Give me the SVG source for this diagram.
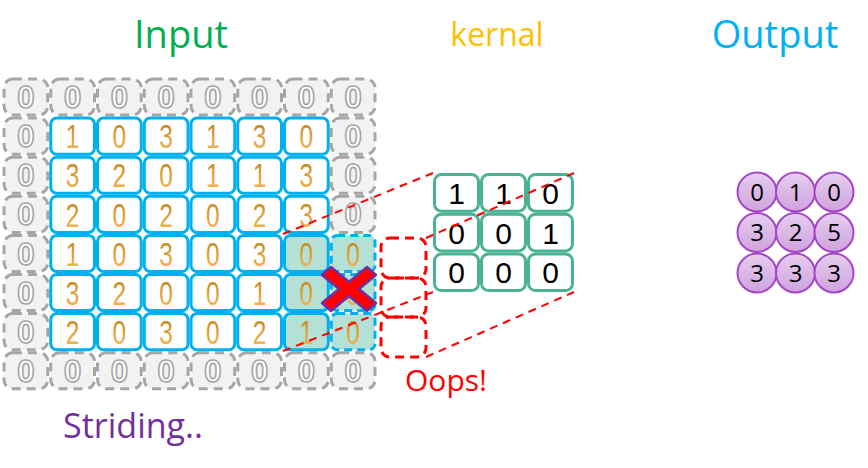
<svg xmlns="http://www.w3.org/2000/svg" width="868" height="468" viewBox="0 0 868 468">
<defs>
<linearGradient id="gold" x1="0" y1="0" x2="0" y2="1">
<stop offset="0" stop-color="#b97a12"/>
<stop offset="0.6" stop-color="#e3a43c"/>
<stop offset="1" stop-color="#f4c060"/>
</linearGradient>
<linearGradient id="purp" x1="0" y1="0" x2="0" y2="1">
<stop offset="0" stop-color="#e6cdef"/>
<stop offset="1" stop-color="#cfa3dd"/>
</linearGradient>
<style>
.pad{fill:#f2f2f2;stroke:#a6a6a6;stroke-width:3;stroke-dasharray:9 6}
.cell{fill:#ffffff;stroke:#00b0f0;stroke-width:3}
.teal{fill:#b4e0d5;stroke:#00b0f0;stroke-width:3}
.tealdash{fill:#b4e0d5;stroke:#00b0f0;stroke-width:3;stroke-dasharray:8 5}
.kcell{fill:#ffffff;stroke:#4ab393;stroke-width:3}
.rbox{fill:none;stroke:#ff0000;stroke-width:3;stroke-dasharray:9 6}
.rline{fill:none;stroke:#ff0000;stroke-width:2;stroke-dasharray:8 6}
.out{fill:url(#purp);stroke:#a347c7;stroke-width:2}
.z{font-family:'Liberation Sans',Arial,sans-serif;font-weight:bold;font-size:31px;fill:#ffffff;stroke:#a6a6a6;stroke-width:1.6;text-anchor:middle}
.d{font-family:'Liberation Sans',Arial,sans-serif;font-size:34px;fill:url(#gold);text-anchor:middle}
.k{font-family:'Liberation Sans',Arial,sans-serif;font-size:30px;fill:#000000;text-anchor:middle}
.o{font-family:'Open Sans','DejaVu Sans',sans-serif;font-size:24px;fill:#000000;text-anchor:middle}
.t{font-family:'Open Sans','DejaVu Sans',sans-serif;text-anchor:middle}
</style>
</defs>
<rect width="868" height="468" fill="#ffffff"/>

<g id="titles">
<text class="t" x="181" y="48" font-size="38" fill="#00b050">Input</text>
<text class="t" x="497" y="46" font-size="32" fill="#ffc000">kernal</text>
<text class="t" x="775" y="48" font-size="38" fill="#00b0f0">Output</text>
<text class="t" x="133" y="438" font-size="34" fill="#7030a0">Striding..</text>
<text class="t" x="446" y="391" font-size="30" fill="#ff0000">Oops!</text>
</g>

<g id="padding">
<rect class="pad" x="4" y="79" width="43.75" height="36.1" rx="9"/>
<rect class="pad" x="50.75" y="79" width="43.75" height="36.1" rx="9"/>
<rect class="pad" x="97.5" y="79" width="43.75" height="36.1" rx="9"/>
<rect class="pad" x="144.25" y="79" width="43.75" height="36.1" rx="9"/>
<rect class="pad" x="191" y="79" width="43.75" height="36.1" rx="9"/>
<rect class="pad" x="237.75" y="79" width="43.75" height="36.1" rx="9"/>
<rect class="pad" x="284.5" y="79" width="43.75" height="36.1" rx="9"/>
<rect class="pad" x="331.25" y="79" width="43.75" height="36.1" rx="9"/>
<rect class="pad" x="4" y="118.1" width="43.75" height="36.1" rx="9"/>
<rect class="pad" x="4" y="157.2" width="43.75" height="36.1" rx="9"/>
<rect class="pad" x="4" y="196.3" width="43.75" height="36.1" rx="9"/>
<rect class="pad" x="4" y="235.4" width="43.75" height="36.1" rx="9"/>
<rect class="pad" x="4" y="274.5" width="43.75" height="36.1" rx="9"/>
<rect class="pad" x="4" y="313.6" width="43.75" height="36.1" rx="9"/>
<rect class="pad" x="331.25" y="118.1" width="43.75" height="36.1" rx="9"/>
<rect class="pad" x="331.25" y="157.2" width="43.75" height="36.1" rx="9"/>
<rect class="pad" x="331.25" y="196.3" width="43.75" height="36.1" rx="9"/>
<rect class="pad" x="4" y="352.7" width="43.75" height="36.1" rx="9"/>
<rect class="pad" x="50.75" y="352.7" width="43.75" height="36.1" rx="9"/>
<rect class="pad" x="97.5" y="352.7" width="43.75" height="36.1" rx="9"/>
<rect class="pad" x="144.25" y="352.7" width="43.75" height="36.1" rx="9"/>
<rect class="pad" x="191" y="352.7" width="43.75" height="36.1" rx="9"/>
<rect class="pad" x="237.75" y="352.7" width="43.75" height="36.1" rx="9"/>
<rect class="pad" x="284.5" y="352.7" width="43.75" height="36.1" rx="9"/>
<rect class="pad" x="331.25" y="352.7" width="43.75" height="36.1" rx="9"/>
<text class="z" x="25.9" y="108">0</text>
<text class="z" x="72.6" y="108">0</text>
<text class="z" x="119.4" y="108">0</text>
<text class="z" x="166.1" y="108">0</text>
<text class="z" x="212.9" y="108">0</text>
<text class="z" x="259.6" y="108">0</text>
<text class="z" x="306.4" y="108">0</text>
<text class="z" x="353.1" y="108">0</text>
<text class="z" x="25.9" y="147.2">0</text>
<text class="z" x="25.9" y="186.3">0</text>
<text class="z" x="25.9" y="225.4">0</text>
<text class="z" x="25.9" y="264.5">0</text>
<text class="z" x="25.9" y="303.6">0</text>
<text class="z" x="25.9" y="342.7">0</text>
<text class="z" x="353.1" y="147.2">0</text>
<text class="z" x="353.1" y="186.3">0</text>
<text class="z" x="353.1" y="225.4">0</text>
<text class="z" x="25.9" y="381.8">0</text>
<text class="z" x="72.6" y="381.8">0</text>
<text class="z" x="119.4" y="381.8">0</text>
<text class="z" x="166.1" y="381.8">0</text>
<text class="z" x="212.9" y="381.8">0</text>
<text class="z" x="259.6" y="381.8">0</text>
<text class="z" x="306.4" y="381.8">0</text>
<text class="z" x="353.1" y="381.8">0</text>
</g>

<g id="input-grid">
<rect class="cell" x="50.75" y="118.1" width="43.75" height="36.1" rx="6"/>
<rect class="cell" x="97.5" y="118.1" width="43.75" height="36.1" rx="6"/>
<rect class="cell" x="144.25" y="118.1" width="43.75" height="36.1" rx="6"/>
<rect class="cell" x="191" y="118.1" width="43.75" height="36.1" rx="6"/>
<rect class="cell" x="237.75" y="118.1" width="43.75" height="36.1" rx="6"/>
<rect class="cell" x="284.5" y="118.1" width="43.75" height="36.1" rx="6"/>
<rect class="cell" x="50.75" y="157.2" width="43.75" height="36.1" rx="6"/>
<rect class="cell" x="97.5" y="157.2" width="43.75" height="36.1" rx="6"/>
<rect class="cell" x="144.25" y="157.2" width="43.75" height="36.1" rx="6"/>
<rect class="cell" x="191" y="157.2" width="43.75" height="36.1" rx="6"/>
<rect class="cell" x="237.75" y="157.2" width="43.75" height="36.1" rx="6"/>
<rect class="cell" x="284.5" y="157.2" width="43.75" height="36.1" rx="6"/>
<rect class="cell" x="50.75" y="196.3" width="43.75" height="36.1" rx="6"/>
<rect class="cell" x="97.5" y="196.3" width="43.75" height="36.1" rx="6"/>
<rect class="cell" x="144.25" y="196.3" width="43.75" height="36.1" rx="6"/>
<rect class="cell" x="191" y="196.3" width="43.75" height="36.1" rx="6"/>
<rect class="cell" x="237.75" y="196.3" width="43.75" height="36.1" rx="6"/>
<rect class="cell" x="284.5" y="196.3" width="43.75" height="36.1" rx="6"/>
<rect class="cell" x="50.75" y="235.4" width="43.75" height="36.1" rx="6"/>
<rect class="cell" x="97.5" y="235.4" width="43.75" height="36.1" rx="6"/>
<rect class="cell" x="144.25" y="235.4" width="43.75" height="36.1" rx="6"/>
<rect class="cell" x="191" y="235.4" width="43.75" height="36.1" rx="6"/>
<rect class="cell" x="237.75" y="235.4" width="43.75" height="36.1" rx="6"/>
<rect class="teal" x="284.5" y="235.4" width="43.75" height="36.1" rx="6"/>
<rect class="cell" x="50.75" y="274.5" width="43.75" height="36.1" rx="6"/>
<rect class="cell" x="97.5" y="274.5" width="43.75" height="36.1" rx="6"/>
<rect class="cell" x="144.25" y="274.5" width="43.75" height="36.1" rx="6"/>
<rect class="cell" x="191" y="274.5" width="43.75" height="36.1" rx="6"/>
<rect class="cell" x="237.75" y="274.5" width="43.75" height="36.1" rx="6"/>
<rect class="teal" x="284.5" y="274.5" width="43.75" height="36.1" rx="6"/>
<rect class="cell" x="50.75" y="313.6" width="43.75" height="36.1" rx="6"/>
<rect class="cell" x="97.5" y="313.6" width="43.75" height="36.1" rx="6"/>
<rect class="cell" x="144.25" y="313.6" width="43.75" height="36.1" rx="6"/>
<rect class="cell" x="191" y="313.6" width="43.75" height="36.1" rx="6"/>
<rect class="cell" x="237.75" y="313.6" width="43.75" height="36.1" rx="6"/>
<rect class="teal" x="284.5" y="313.6" width="43.75" height="36.1" rx="6"/>
<rect class="tealdash" x="331.25" y="235.4" width="43.75" height="36.1" rx="6"/>
<rect class="tealdash" x="331.25" y="274.5" width="43.75" height="36.1" rx="6"/>
<rect class="tealdash" x="331.25" y="313.6" width="43.75" height="36.1" rx="6"/>
<g transform="scale(0.72,1)">
<text class="d" x="100.87" y="148.4">1</text>
<text class="d" x="165.80" y="148.4">0</text>
<text class="d" x="230.73" y="148.4">3</text>
<text class="d" x="295.66" y="148.4">1</text>
<text class="d" x="360.59" y="148.4">3</text>
<text class="d" x="425.52" y="148.4">0</text>
<text class="d" x="100.87" y="187.5">3</text>
<text class="d" x="165.80" y="187.5">2</text>
<text class="d" x="230.73" y="187.5">0</text>
<text class="d" x="295.66" y="187.5">1</text>
<text class="d" x="360.59" y="187.5">1</text>
<text class="d" x="425.52" y="187.5">3</text>
<text class="d" x="100.87" y="226.6">2</text>
<text class="d" x="165.80" y="226.6">0</text>
<text class="d" x="230.73" y="226.6">2</text>
<text class="d" x="295.66" y="226.6">0</text>
<text class="d" x="360.59" y="226.6">2</text>
<text class="d" x="425.52" y="226.6">3</text>
<text class="d" x="100.87" y="265.7">1</text>
<text class="d" x="165.80" y="265.7">0</text>
<text class="d" x="230.73" y="265.7">3</text>
<text class="d" x="295.66" y="265.7">0</text>
<text class="d" x="360.59" y="265.7">3</text>
<text class="d" x="425.52" y="265.7">0</text>
<text class="d" x="490.45" y="265.7">0</text>
<text class="d" x="100.87" y="304.8">3</text>
<text class="d" x="165.80" y="304.8">2</text>
<text class="d" x="230.73" y="304.8">0</text>
<text class="d" x="295.66" y="304.8">0</text>
<text class="d" x="360.59" y="304.8">1</text>
<text class="d" x="425.52" y="304.8">0</text>
<text class="d" x="490.45" y="304.8">0</text>
<text class="d" x="100.87" y="343.9">2</text>
<text class="d" x="165.80" y="343.9">0</text>
<text class="d" x="230.73" y="343.9">3</text>
<text class="d" x="295.66" y="343.9">0</text>
<text class="d" x="360.59" y="343.9">2</text>
<text class="d" x="425.52" y="343.9">1</text>
<text class="d" x="490.45" y="343.9">0</text>
</g>
</g>

<g id="cross">
<polygon points="322,275 331,267 349,282 367,267 376,275 359,289 376,303 367,311 349,296 331,311 322,303 339,289" fill="#ff0000" stroke="#7030a0" stroke-width="2.5" stroke-linejoin="round"/>
</g>

<g id="out-of-bounds">
<rect class="rbox" x="381" y="238" width="45" height="40" rx="9"/>
<rect class="rbox" x="381" y="278" width="45" height="39" rx="9"/>
<rect class="rbox" x="381" y="317" width="45" height="40" rx="9"/>
</g>

<g id="kernel">
<rect class="kcell" x="434.5" y="174.5" width="44" height="36.7" rx="7"/>
<rect class="kcell" x="481.5" y="174.5" width="44" height="36.7" rx="7"/>
<rect class="kcell" x="528.5" y="174.5" width="44" height="36.7" rx="7"/>
<rect class="kcell" x="434.5" y="214.2" width="44" height="36.7" rx="7"/>
<rect class="kcell" x="481.5" y="214.2" width="44" height="36.7" rx="7"/>
<rect class="kcell" x="528.5" y="214.2" width="44" height="36.7" rx="7"/>
<rect class="kcell" x="434.5" y="253.9" width="44" height="36.7" rx="7"/>
<rect class="kcell" x="481.5" y="253.9" width="44" height="36.7" rx="7"/>
<rect class="kcell" x="528.5" y="253.9" width="44" height="36.7" rx="7"/>
<text class="k" x="456.5" y="204">1</text>
<text class="k" x="503.5" y="204">1</text>
<text class="k" x="550.5" y="204">0</text>
<text class="k" x="456.5" y="243.7">0</text>
<text class="k" x="503.5" y="243.7">0</text>
<text class="k" x="550.5" y="243.7">1</text>
<text class="k" x="456.5" y="283.4">0</text>
<text class="k" x="503.5" y="283.4">0</text>
<text class="k" x="550.5" y="283.4">0</text>
</g>

<g id="output">
<circle class="out" cx="757" cy="192" r="19.5"/>
<circle class="out" cx="795.5" cy="192" r="19.5"/>
<circle class="out" cx="834" cy="192" r="19.5"/>
<circle class="out" cx="757" cy="232.5" r="19.5"/>
<circle class="out" cx="795.5" cy="232.5" r="19.5"/>
<circle class="out" cx="834" cy="232.5" r="19.5"/>
<circle class="out" cx="757" cy="273" r="19.5"/>
<circle class="out" cx="795.5" cy="273" r="19.5"/>
<circle class="out" cx="834" cy="273" r="19.5"/>
<text class="o" x="757" y="200.5">0</text>
<text class="o" x="795.5" y="200.5">1</text>
<text class="o" x="834" y="200.5">0</text>
<text class="o" x="757" y="241">3</text>
<text class="o" x="795.5" y="241">2</text>
<text class="o" x="834" y="241">5</text>
<text class="o" x="757" y="281.5">3</text>
<text class="o" x="795.5" y="281.5">3</text>
<text class="o" x="834" y="281.5">3</text>
</g>

<g id="connectors">
<line class="rline" x1="283" y1="234" x2="433" y2="173"/>
<line class="rline" x1="283" y1="351" x2="433" y2="292"/>
<line class="rline" x1="426" y1="238" x2="574" y2="173"/>
<line class="rline" x1="426" y1="357" x2="574" y2="292"/>
</g>
</svg>
